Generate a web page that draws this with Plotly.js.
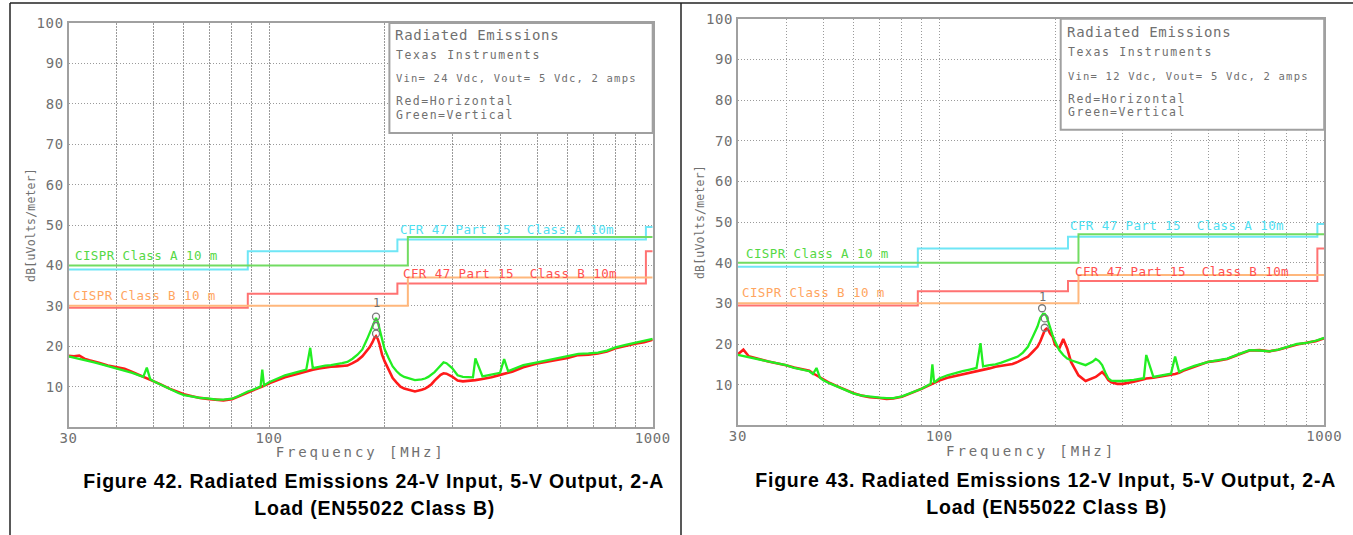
<!DOCTYPE html>
<html><head><meta charset="utf-8">
<script src="https://cdn.plot.ly/plotly-3.0.1.min.js"></script>
<style>
html,body{margin:0;padding:0;background:#fff;}
#chart{width:1353px;height:535px;}
text.xtitle, text.x2title{letter-spacing:2.9px;}
text.ytitle, text.y2title{letter-spacing:0.2px;}
g.xtick text, g.ytick text, g.x2tick text, g.y2tick text{letter-spacing:0.6px;}
</style></head><body><div id="chart"></div>
<script>
// ---------- data ----------
const freq = [30,31,32,33,34,35,36,38,40,42,44,46,47,48,49,50,52,55,58,60,63,66,70,73,76,80,83,86,88,90,95,96,97,100,105,110,115,120,125,128,130,135,140,145,150,155,160,165,170,175,180,183,186,188,190,192,194,197,200,205,210,215,220,225,230,240,250,255,260,265,270,275,280,285,290,300,310,320,340,345,360,380,400,410,420,430,460,500,530,560,600,640,680,720,760,800,850,900,950,1000];

// Figure 42 (24 V in)
const horizontal24 = [17.6,17.5,17.7,16.9,16.5,16.1,15.9,15.2,14.7,14.4,13.6,12.8,12.4,12.1,11.8,11.4,10.6,9.5,8.6,8.1,7.6,7.2,6.9,6.7,6.6,6.9,7.5,8.2,8.6,9.0,9.8,10.0,10.2,10.8,11.6,12.3,12.8,13.3,13.8,14.0,14.2,14.5,14.8,14.9,15.0,15.1,15.2,15.8,16.5,17.5,18.8,19.8,21.0,22.0,22.5,21.8,20.5,17.9,16.3,14.0,12.1,11.0,10.0,9.5,9.2,8.8,9.2,9.5,10.0,10.6,11.5,12.2,12.9,13.3,13.2,12.5,11.5,11.3,11.5,11.6,11.9,12.3,12.9,13.1,13.4,13.7,14.8,15.7,16.1,16.5,17.1,17.8,17.9,18.2,18.7,19.5,20.1,20.6,21.0,21.6];
const vertical24 = [17.5,17.2,17.0,16.6,16.3,16.0,15.7,15.1,14.5,14.0,13.4,12.7,12.4,14.7,11.8,11.3,10.5,9.3,8.4,7.9,7.5,7.2,7.0,6.8,6.8,7.0,7.6,8.4,8.8,9.1,10.0,14.2,10.3,11.1,12.0,12.8,13.3,13.7,14.2,19.6,14.6,14.9,15.2,15.3,15.5,15.8,16.1,16.9,17.9,19.2,21.7,23.3,25.2,26.3,27.0,26.0,24.2,21.7,19.3,17.0,15.0,13.8,12.9,12.4,12.1,11.6,11.8,12.0,12.4,12.9,13.6,14.4,15.2,16.0,15.8,14.6,12.8,12.4,12.3,17.0,12.5,12.9,13.4,16.8,13.8,14.2,15.3,16.0,16.5,16.9,17.5,18.1,18.2,18.4,18.9,19.7,20.3,20.8,21.2,21.8];

// Figure 43 (12 V in)
const horizontal12 = [17.5,18.6,17.0,16.6,16.3,16.0,15.7,15.3,14.8,14.2,13.7,13.4,12.8,12.3,11.8,11.2,10.4,9.4,8.5,7.9,7.3,6.9,6.7,6.5,6.6,7.0,7.6,8.3,8.6,9.0,10.0,10.2,10.3,11.0,11.7,12.1,12.5,12.9,13.3,13.5,13.7,14.0,14.4,14.6,14.8,15.1,15.6,16.2,16.9,18.1,19.3,20.6,22.5,23.4,23.8,23.5,22.6,21.8,19.8,18.9,21.2,18.9,15.6,13.8,12.3,10.9,11.5,11.9,12.5,13.1,12.3,11.1,10.6,10.3,10.2,10.2,10.4,10.7,11.3,11.5,11.7,12.0,12.3,12.6,12.9,13.4,14.4,15.6,15.9,16.3,17.4,18.4,18.5,18.2,18.6,19.2,19.9,20.3,20.7,21.4];
const vertical12 = [17.3,17.0,16.8,16.4,16.2,15.9,15.6,15.2,14.8,14.1,13.6,13.3,12.6,14.1,11.7,11.1,10.3,9.3,8.4,7.8,7.3,7.0,6.8,6.7,6.7,7.1,7.7,8.4,8.7,9.0,10.2,15.0,10.5,11.5,12.3,12.9,13.3,13.7,14.1,20.2,14.5,14.8,15.0,15.4,15.9,16.3,16.9,17.9,19.3,21.8,24.3,26.4,27.4,27.4,26.8,25.5,24.0,22.2,20.6,18.5,17.3,16.4,16.0,15.7,15.4,14.8,15.6,16.3,15.8,14.8,13.0,11.5,11.0,10.9,10.9,10.9,11.0,11.2,11.6,17.3,11.9,12.3,12.7,16.9,13.1,13.6,14.6,15.6,16.0,16.4,17.5,18.5,18.4,18.2,18.6,19.3,20.0,20.3,20.8,21.5];

// limit lines (step functions)
const cisprAFreq = [30,230,1000], cisprAVal = [40,47,47];
const cisprBFreq = [30,230,1000], cisprBVal = [30,37,37];
const cfrAFreq = [30,88,216,960,1000], cfrAVal = [39,43.5,46.4,49.5,49.5];
const cfrBFreq = [30,88,216,960,1000], cfrBVal = [29.5,33,35.5,43.5,43.5];

// peak markers
const marker24Freq = [190,190,190], marker24Val = [27.3,25.0,23.1];
const marker12Freq = [185,188,188], marker12Val = [28.8,26.3,24.0];

// tick labels
const xTickVals = [30,40,50,60,70,80,90,100,200,300,400,500,600,700,800,900,1000];
const xTickText = ['30','','','','','','','100','','','','','','','','','1000'];
const yTickVals = [10,20,30,40,50,60,70,80,90,100];
const yTickText = ['10','20','30','40','50','60','70','80','90','100'];

// texts
const xTitle = 'Frequency [MHz]';
const yTitle = 'dB[uVolts/meter]';
const boxLines24 = ['Radiated Emissions','Texas Instruments','Vin= 24 Vdc, Vout= 5 Vdc, 2 amps','Red=Horizontal','Green=Vertical'];
const boxLines12 = ['Radiated Emissions','Texas Instruments','Vin= 12 Vdc, Vout= 5 Vdc, 2 amps','Red=Horizontal','Green=Vertical'];
const limitNames = ['CISPR Class A 10 m','CISPR Class B 10 m','CFR 47 Part 15\u00a0 Class A 10m','CFR 47 Part 15\u00a0 Class B 10m'];
const captions24 = ['Figure 42. Radiated Emissions 24-V Input, 5-V Output, 2-A','Load (EN55022 Class B)'];
const captions12 = ['Figure 43. Radiated Emissions 12-V Input, 5-V Output, 2-A','Load (EN55022 Class B)'];

// ---------- styling / layout ----------
const W = 1353, H = 535;
const px = p => p / W, py = p => 1 - p / H;
const MONO = 'DejaVu Sans Mono, monospace';
const GRAY = '#707070';
const RED = '#ff1a1a', GREEN = '#22ee22';
const limColors = ['#72dc62','#ffb77c','#6fe6f6','#ff7272'];
const limTextColors = ['#55d845','#ffa560','#4fe0f2','#ff5050'];

function lim(xa, ya, f, v, c) {
  return {x: f, y: v, xaxis: xa, yaxis: ya, type: 'scatter', mode: 'lines',
    line: {shape: 'hv', color: c, width: 2}, hoverinfo: 'skip', showlegend: false};
}
function trace(xa, ya, f, v, c, w) {
  return {x: f, y: v, xaxis: xa, yaxis: ya, type: 'scatter', mode: 'lines',
    line: {color: c, width: w}, hoverinfo: 'skip', showlegend: false};
}
function mk(xa, ya, f, v) {
  return {x: f, y: v, xaxis: xa, yaxis: ya, type: 'scatter', mode: 'markers',
    marker: {symbol: 'circle-open', size: 7, color: '#7a7a7a', line: {width: 1.3, color: '#7a7a7a'}},
    hoverinfo: 'skip', showlegend: false};
}

const data = [
  lim('x','y',cfrAFreq,cfrAVal,limColors[2]),
  lim('x','y',cisprAFreq,cisprAVal,limColors[0]),
  lim('x','y',cfrBFreq,cfrBVal,limColors[3]),
  lim('x','y',cisprBFreq,cisprBVal,limColors[1]),
  trace('x','y',freq,horizontal24,RED,2.6),
  trace('x','y',freq,vertical24,GREEN,2.3),
  mk('x','y',marker24Freq,marker24Val),
  lim('x2','y2',cfrAFreq,cfrAVal,limColors[2]),
  lim('x2','y2',cisprAFreq,cisprAVal,limColors[0]),
  lim('x2','y2',cfrBFreq,cfrBVal,limColors[3]),
  lim('x2','y2',cisprBFreq,cisprBVal,limColors[1]),
  trace('x2','y2',freq,horizontal12,RED,2.6),
  trace('x2','y2',freq,vertical12,GREEN,2.3),
  mk('x2','y2',marker12Freq,marker12Val)
];

function xax(dom, anchor) {
  return {domain: dom, anchor: anchor, type: 'log', range: [Math.log10(30), Math.log10(1000)],
    tickmode: 'array', tickvals: xTickVals, ticktext: xTickText, ticks: '', ticklabelstandoff: -3,
    tickfont: {family: MONO, size: 14, color: GRAY},
    showgrid: true, gridcolor: '#9a9a9a', griddash: '1.5px,1.5px', gridwidth: 1,
    showline: true, mirror: true, linecolor: '#a0a0a0', linewidth: 2, zeroline: false,
    title: {text: xTitle, font: {family: MONO, size: 14, color: GRAY}},
    fixedrange: true};
}
function yax(dom, anchor) {
  return {domain: dom, anchor: anchor, range: [0, 100],
    tickmode: 'array', tickvals: yTickVals, ticktext: yTickText, ticks: '',
    tickfont: {family: MONO, size: 14, color: GRAY},
    showgrid: true, gridcolor: '#9a9a9a', griddash: '1.5px,1.5px', gridwidth: 1,
    showline: true, mirror: true, linecolor: '#a0a0a0', linewidth: 2, zeroline: false,
    title: {text: yTitle, font: {family: MONO, size: 11.5, color: GRAY}},
    fixedrange: true};
}

const annotations = [], spacing = [];
function ann(text, x, y, size, color, ls, opts) {
  annotations.push(Object.assign({text: text, x: x, y: y, xref: 'paper', yref: 'paper',
    xanchor: 'left', yanchor: 'middle', align: 'left', showarrow: false,
    font: {family: MONO, size: size, color: color}}, opts || {}));
  spacing.push(ls);
}
// info boxes
const boxSizes = [14, 11.5, 10.5, 11.5, 11.5], boxLS = [0.7, 1.6, 1.2, 1.5, 1.5];
const boxYL = [35, 55.3, 78.5, 101.4, 115], boxYR = [32.4, 52.2, 75.8, 98.6, 112.3];
boxLines24.forEach((t, i) => ann(t, px(i ? 393.8 : 392.5), py(boxYL[i]), boxSizes[i], GRAY, boxLS[i]));
boxLines12.forEach((t, i) => ann(t, px(i ? 1066.3 : 1065.4), py(boxYR[i]), boxSizes[i], GRAY, boxLS[i]));
// limit labels
const limXL = [72.9, 70.7, 397.7, 401], limYL = [256, 295, 229, 273];
const limXR = [743.5, 740.1, 1068.4, 1072.7], limYR = [253.2, 292.8, 225.9, 271];
limitNames.forEach((t, i) => ann(t, px(limXL[i]), py(limYL[i]), 12.5, limTextColors[i], 0.4));
limitNames.forEach((t, i) => ann(t, px(limXR[i]), py(limYR[i]), 12.5, limTextColors[i], 0.4));
// marker numbers
ann('1', Math.log10(190), 30.6, 12, GRAY, 0, {xref: 'x', yref: 'y', xanchor: 'center'});
ann('1', Math.log10(185), 31.6, 12, GRAY, 0, {xref: 'x2', yref: 'y2', xanchor: 'center'});
// captions
const capFont = {family: 'Liberation Sans, Arial, sans-serif', size: 19.5, color: '#000', weight: 'bold'};
const capLS = 0.8;
ann(captions24[0], px(373), py(481), 0, '#000', capLS, {xanchor: 'center', align: 'center', font: capFont});
ann(captions24[1], px(374), py(508), 0, '#000', capLS, {xanchor: 'center', align: 'center', font: capFont});
ann(captions12[0], px(1045), py(479.5), 0, '#000', capLS, {xanchor: 'center', align: 'center', font: capFont});
ann(captions12[1], px(1046), py(506.8), 0, '#000', capLS, {xanchor: 'center', align: 'center', font: capFont});

const shapes = [
  {type: 'rect', xref: 'paper', yref: 'paper', x0: px(389.4), x1: px(652.7), y0: py(133), y1: py(23),
   line: {color: '#a0a0a0', width: 2}, fillcolor: '#ffffff', layer: 'above'},
  {type: 'rect', xref: 'paper', yref: 'paper', x0: px(1060.7), x1: px(1324.2), y0: py(129.7), y1: py(18.8),
   line: {color: '#a0a0a0', width: 2}, fillcolor: '#ffffff', layer: 'above'},
  {type: 'line', xref: 'paper', yref: 'paper', x0: px(10), x1: px(10), y0: 0, y1: py(3), line: {color: '#222', width: 1.5}},
  {type: 'line', xref: 'paper', yref: 'paper', x0: px(10), x1: 1, y0: py(3), y1: py(3), line: {color: '#222', width: 1.5}},
  {type: 'line', xref: 'paper', yref: 'paper', x0: px(681), x1: px(681), y0: 0, y1: py(3), line: {color: '#222', width: 1.5}}
];

const layout = {
  width: W, height: H, margin: {l: 0, r: 0, t: 0, b: 0},
  paper_bgcolor: '#fff', plot_bgcolor: '#fff', showlegend: false,
  xaxis: xax([px(68.5), px(652.7)], 'y'),
  yaxis: yax([py(427), py(23)], 'x'),
  xaxis2: xax([px(737.9), px(1324.2)], 'y2'),
  yaxis2: yax([py(425.3), py(18.8)], 'x2'),
  annotations: annotations, shapes: shapes
};

// target centre lines (px) of the axis titles in the reference
const xTitleY = {xtitle: 452, x2title: 451};

Plotly.newPlot('chart', data, layout, {staticPlot: true, displayModeBar: false}).then(() => {
  document.querySelectorAll('g.annotation').forEach(g => {
    const i = +g.getAttribute('data-index');
    const t = g.querySelector('text');
    if (t && spacing[i]) t.style.letterSpacing = spacing[i] + 'px';
  });
  const svgTop = document.querySelector('#chart .main-svg').getBoundingClientRect().top;
  Object.keys(xTitleY).forEach(cls => {
    const t = document.querySelector('text.' + cls);
    if (!t) return;
    const r = t.getBoundingClientRect();
    const shift = xTitleY[cls] - ((r.top + r.bottom) / 2 - svgTop);
    t.setAttribute('y', (parseFloat(t.getAttribute('y')) + shift).toFixed(1));
  });
});
</script></body></html>
